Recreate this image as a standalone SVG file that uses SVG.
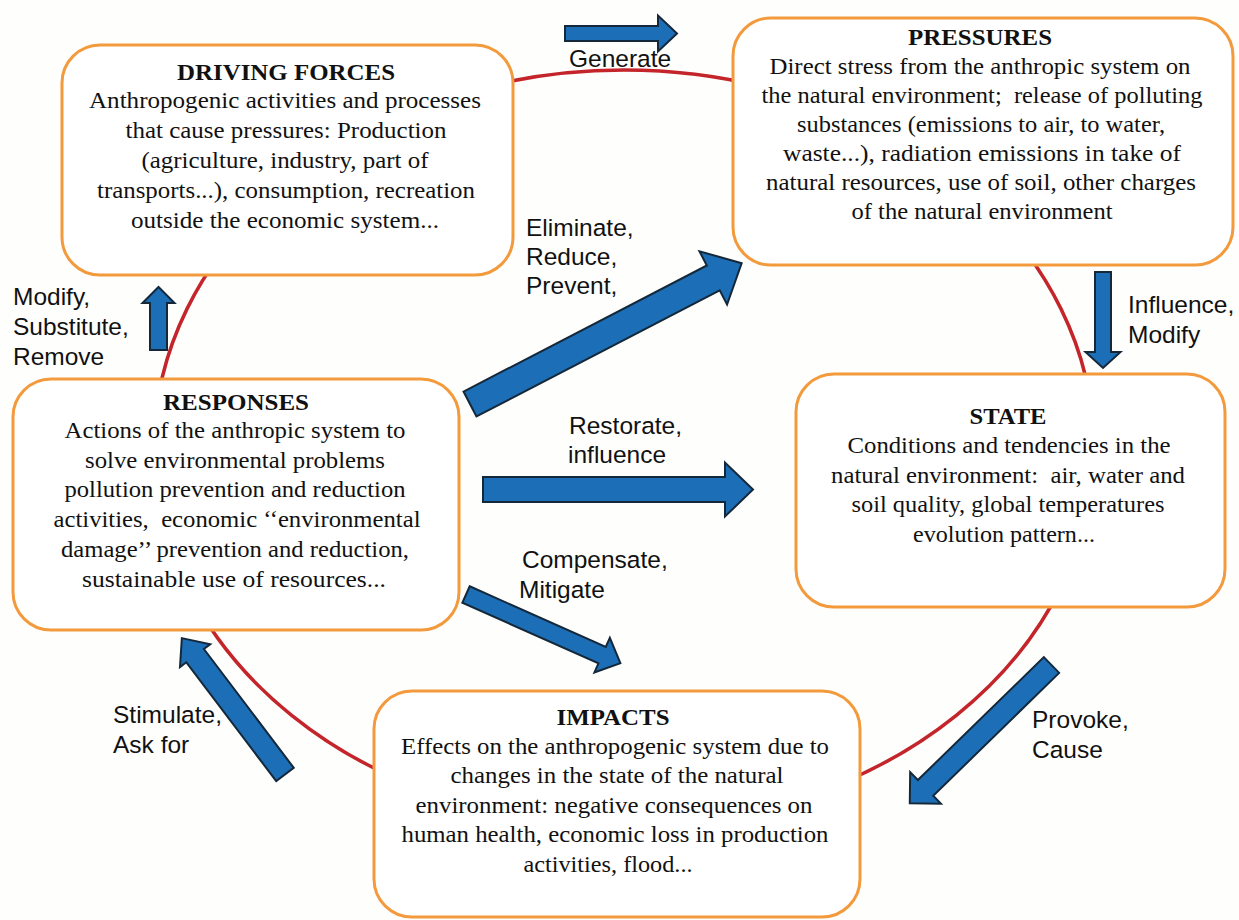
<svg xmlns="http://www.w3.org/2000/svg" width="1239" height="920" viewBox="0 0 1239 920">
  <style>
    .cycle { fill: none; stroke: #c4252b; stroke-width: 3.5; }
    .box { fill: #ffffff; stroke: #f39a3d; stroke-width: 3; }
    .title { font-family: "Liberation Serif", "Times New Roman", serif; font-size: 23px; font-weight: bold; fill: #111; text-anchor: middle; }
    .body { font-family: "Liberation Serif", "Times New Roman", serif; font-size: 23px; fill: #111; text-anchor: middle; }
    .label { font-family: "Liberation Sans", Arial, sans-serif; font-size: 24.5px; fill: #111; }
    .arrow { fill: #1c6fb6; stroke: #15283a; stroke-width: 2; stroke-linejoin: miter; }
  </style>

  <rect width="1239" height="920" fill="#fefefd"/>

  <!-- the cycle linking the five stages -->
  <ellipse class="cycle" cx="624" cy="448" rx="470" ry="378"/>

  <g id="driving-forces">
    <rect class="box" x="62" y="45" width="451" height="230" rx="38"/>
    <text class="title" x="286" y="80" textLength="218" lengthAdjust="spacingAndGlyphs">DRIVING FORCES</text>
    <text class="body" x="285" y="108" textLength="392" lengthAdjust="spacingAndGlyphs">Anthropogenic activities and processes</text>
    <text class="body" x="286" y="138" textLength="321" lengthAdjust="spacingAndGlyphs">that cause pressures: Production</text>
    <text class="body" x="285" y="168" textLength="287" lengthAdjust="spacingAndGlyphs">(agriculture, industry, part of</text>
    <text class="body" x="286" y="198" textLength="378" lengthAdjust="spacingAndGlyphs">transports...), consumption, recreation</text>
    <text class="body" x="285" y="228" textLength="308" lengthAdjust="spacingAndGlyphs">outside the economic system...</text>
  </g>

  <g id="pressures">
    <rect class="box" x="733" y="18" width="500" height="247" rx="38"/>
    <text class="title" x="980" y="45" textLength="144" lengthAdjust="spacingAndGlyphs">PRESSURES</text>
    <text class="body" x="980" y="74" textLength="421" lengthAdjust="spacingAndGlyphs">Direct stress from the anthropic system on</text>
    <text class="body" x="982" y="103" textLength="441" lengthAdjust="spacingAndGlyphs">the natural environment;&#160; release of polluting</text>
    <text class="body" x="981" y="132" textLength="368" lengthAdjust="spacingAndGlyphs">substances (emissions to air, to water,</text>
    <text class="body" x="982" y="161" textLength="398" lengthAdjust="spacingAndGlyphs">waste...), radiation emissions in take of</text>
    <text class="body" x="981" y="190" textLength="430" lengthAdjust="spacingAndGlyphs">natural resources, use of soil, other charges</text>
    <text class="body" x="982" y="219" textLength="261" lengthAdjust="spacingAndGlyphs">of the natural environment</text>
  </g>

  <g id="responses">
    <rect class="box" x="13" y="379" width="446" height="251" rx="38"/>
    <text class="title" x="236" y="410" textLength="146" lengthAdjust="spacingAndGlyphs">RESPONSES</text>
    <text class="body" x="235" y="438" textLength="341" lengthAdjust="spacingAndGlyphs">Actions of the anthropic system to</text>
    <text class="body" x="235" y="468" textLength="300" lengthAdjust="spacingAndGlyphs">solve environmental problems</text>
    <text class="body" x="235" y="497" textLength="341" lengthAdjust="spacingAndGlyphs">pollution prevention and reduction</text>
    <text class="body" x="237" y="527" textLength="367" lengthAdjust="spacingAndGlyphs">activities,&#160; economic ‘‘environmental</text>
    <text class="body" x="235" y="557" textLength="348" lengthAdjust="spacingAndGlyphs">damage’’ prevention and reduction,</text>
    <text class="body" x="234" y="587" textLength="304" lengthAdjust="spacingAndGlyphs">sustainable use of resources...</text>
  </g>

  <g id="state">
    <rect class="box" x="796" y="374" width="429" height="233" rx="38"/>
    <text class="title" x="1008" y="424" textLength="77" lengthAdjust="spacingAndGlyphs">STATE</text>
    <text class="body" x="1009" y="453" textLength="323" lengthAdjust="spacingAndGlyphs">Conditions and tendencies in the</text>
    <text class="body" x="1008" y="483" textLength="354" lengthAdjust="spacingAndGlyphs">natural environment:&#160; air, water and</text>
    <text class="body" x="1008" y="512" textLength="313" lengthAdjust="spacingAndGlyphs">soil quality, global temperatures</text>
    <text class="body" x="1004" y="542" textLength="182" lengthAdjust="spacingAndGlyphs">evolution pattern...</text>
  </g>

  <g id="impacts">
    <rect class="box" x="374" y="691" width="486" height="226" rx="38"/>
    <text class="title" x="613" y="725" textLength="113" lengthAdjust="spacingAndGlyphs">IMPACTS</text>
    <text class="body" x="615" y="754" textLength="428" lengthAdjust="spacingAndGlyphs">Effects on the anthropogenic system due to</text>
    <text class="body" x="617" y="783" textLength="333" lengthAdjust="spacingAndGlyphs">changes in the state of the natural</text>
    <text class="body" x="614" y="813" textLength="397" lengthAdjust="spacingAndGlyphs">environment: negative consequences on</text>
    <text class="body" x="615" y="842" textLength="427" lengthAdjust="spacingAndGlyphs">human health, economic loss in production</text>
    <text class="body" x="608" y="872" textLength="169" lengthAdjust="spacingAndGlyphs">activities, flood...</text>
  </g>

  <!-- block arrows: drawn along +x from the tail, then moved into place -->
  <g id="connectors">
    <!-- Generate: driving forces to pressures -->
    <polygon class="arrow" transform="translate(565,33.5) rotate(0)" points="0,-7.5 93,-7.5 93,-18 112,0 93,18 93,7.5 0,7.5"/>
    <!-- Influence, Modify: pressures to state -->
    <polygon class="arrow" transform="translate(1103,272) rotate(90)" points="0,-8 80,-8 80,-17.5 96,0 80,17.5 80,8 0,8"/>
    <!-- Provoke, Cause: state to impacts -->
    <polygon class="arrow" transform="translate(1051.5,665) rotate(135.7)" points="0,-11 176,-11 176,-22 198,0 176,22 176,11 0,11"/>
    <!-- Stimulate, Ask for: impacts to responses -->
    <polygon class="arrow" transform="translate(285,774.5) rotate(-127.1)" points="0,-11 149,-11 149,-19 171,0 149,19 149,11 0,11"/>
    <!-- Modify, Substitute, Remove: responses to driving forces -->
    <polygon class="arrow" transform="translate(158.5,350) rotate(-90)" points="0,-8.5 47,-8.5 47,-16 63,0 47,16 47,8.5 0,8.5"/>
    <!-- Eliminate, Reduce, Prevent: responses to pressures -->
    <polygon class="arrow" transform="translate(470,404) rotate(-27.4)" points="0,-14 274,-14 274,-30 306,0 274,30 274,14 0,14"/>
    <!-- Restorate, influence: responses to state -->
    <polygon class="arrow" transform="translate(483,489.5) rotate(0)" points="0,-12.5 242,-12.5 242,-27 270,0 242,27 242,12.5 0,12.5"/>
    <!-- Compensate, Mitigate: responses to impacts -->
    <polygon class="arrow" transform="translate(466,594.5) rotate(24)" points="0,-9 149,-9 149,-19 169,0 149,19 149,9 0,9"/>
  </g>

  <g id="labels">
    <text class="label" x="569" y="67">Generate</text>
    <text class="label" x="13" y="305">Modify,</text>
    <text class="label" x="13" y="335">Substitute,</text>
    <text class="label" x="13" y="365">Remove</text>
    <text class="label" x="526" y="236">Eliminate,</text>
    <text class="label" x="526" y="265">Reduce,</text>
    <text class="label" x="526" y="294">Prevent,</text>
    <text class="label" x="569" y="434">Restorate,</text>
    <text class="label" x="568" y="463">influence</text>
    <text class="label" x="522" y="568">Compensate,</text>
    <text class="label" x="519" y="598">Mitigate</text>
    <text class="label" x="1128" y="313">Influence,</text>
    <text class="label" x="1128" y="343">Modify</text>
    <text class="label" x="113" y="723">Stimulate,</text>
    <text class="label" x="113" y="753">Ask for</text>
    <text class="label" x="1032" y="728">Provoke,</text>
    <text class="label" x="1032" y="758">Cause</text>
  </g>
</svg>
